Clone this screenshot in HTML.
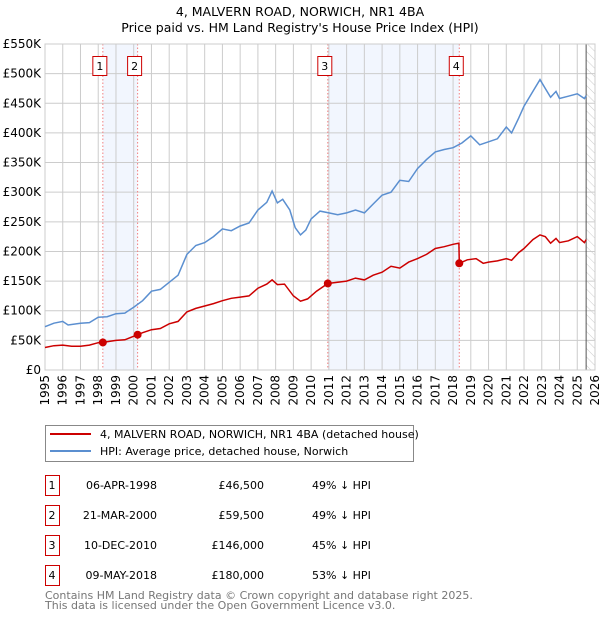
<!DOCTYPE html>
<html><head><meta charset="utf-8"><style>
body{margin:0;background:#fff;font-family:"Liberation Sans","DejaVu Sans",sans-serif;}
svg text{font-family:"DejaVu Sans","Liberation Sans",sans-serif;}
</style></head><body>
<svg id="chart" width="600" height="620" xmlns="http://www.w3.org/2000/svg">
<defs><pattern id="hatch" width="6" height="6" patternUnits="userSpaceOnUse" patternTransform="rotate(-45)"><line x1="0" y1="0" x2="0" y2="6" stroke="#ccc" stroke-width="1"/></pattern></defs>
<text x="300" y="16" text-anchor="middle" font-size="12.5">4, MALVERN ROAD, NORWICH, NR1 4BA</text>
<text x="300" y="32" text-anchor="middle" font-size="12.5">Price paid vs. HM Land Registry's House Price Index (HPI)</text>
<g id="plot"></g>
<g>
<rect x="45.5" y="425.5" width="368" height="36" fill="#fff" stroke="#888"/>
<line x1="50" y1="434" x2="91" y2="434" stroke="#cc0000" stroke-width="2"/>
<text x="100" y="438" font-size="11">4, MALVERN ROAD, NORWICH, NR1 4BA (detached house)</text>
<line x1="50" y1="451" x2="91" y2="451" stroke="#5b8fd0" stroke-width="2"/>
<text x="100" y="455" font-size="11">HPI: Average price, detached house, Norwich</text>
</g>
<g id="table" font-size="11"></g>
<text x="45" y="599" font-size="11" fill="#777">Contains HM Land Registry data © Crown copyright and database right 2025.</text>
<text x="45" y="609" font-size="11" fill="#777">This data is licensed under the Open Government Licence v3.0.</text>
</svg>
<script>
const hpiYears=[1995,1995.5,1996,1996.3,1997,1997.5,1998,1998.5,1999,1999.5,2000,2000.5,2001,2001.5,2002,2002.5,2003,2003.5,2004,2004.5,2005,2005.5,2006,2006.5,2007,2007.5,2007.8,2008.1,2008.4,2008.8,2009.1,2009.4,2009.7,2010,2010.5,2011,2011.5,2012,2012.5,2013,2013.5,2014,2014.5,2015,2015.5,2016,2016.5,2017,2017.5,2018,2018.5,2019,2019.5,2020,2020.5,2021,2021.3,2021.7,2022,2022.5,2022.9,2023.2,2023.5,2023.8,2024,2024.5,2025,2025.4,2025.5];
const hpiValues=[73,79,82,76,79,80,89,90,95,96,106,117,133,136,148,160,195,210,215,225,238,235,243,248,270,283,302,282,288,270,240,228,236,255,268,265,262,265,270,265,280,295,300,320,318,340,355,368,372,375,383,395,380,385,390,410,400,425,445,470,490,475,460,470,458,462,466,458,463];
const ppYears=[1995,1995.5,1996,1996.5,1997,1997.5,1998,1998.26,1999,1999.5,2000.22,2000.5,2001,2001.5,2002,2002.5,2003,2003.5,2004,2004.5,2005,2005.5,2006,2006.5,2007,2007.5,2007.8,2008.1,2008.5,2009,2009.4,2009.8,2010.3,2010.94,2011.5,2012,2012.5,2013,2013.5,2014,2014.5,2015,2015.5,2016,2016.5,2017,2017.5,2018,2018.33,2018.35,2018.8,2019.3,2019.7,2020,2020.5,2021,2021.3,2021.7,2022,2022.5,2022.9,2023.2,2023.5,2023.8,2024,2024.5,2025,2025.4,2025.5];
const ppValues=[38,41,42,40,40,42,46,46.5,50,51,59.5,63,68,70,78,82,98,104,108,112,117,121,123,125,138,145,152,144,145,125,116,120,133,146,148,150,155,152,160,165,175,172,182,188,195,205,208,212,214,180,186,188,180,182,184,188,185,198,205,220,228,225,214,222,215,218,225,215,220];
const saleLabels=["1","2","3","4"];
const saleYears=[1998.26,2000.22,2010.94,2018.35];
const saleValues=[46.5,59.5,146,180];
const saleDates=["06-APR-1998","21-MAR-2000","10-DEC-2010","09-MAY-2018"];
const salePrices=["£46,500","£59,500","£146,000","£180,000"];
const saleHpi=["49% ↓ HPI","49% ↓ HPI","45% ↓ HPI","53% ↓ HPI"];
const yTicks=[0,50,100,150,200,250,300,350,400,450,500,550];
const yTickLabels=["£0","£50K","£100K","£150K","£200K","£250K","£300K","£350K","£400K","£450K","£500K","£550K"];
const xTicks=[1995,1996,1997,1998,1999,2000,2001,2002,2003,2004,2005,2006,2007,2008,2009,2010,2011,2012,2013,2014,2015,2016,2017,2018,2019,2020,2021,2022,2023,2024,2025,2026];

const X0=45,X1=595,Y0=370,Y1=44;
const xs=y=>X0+(y-1995)/31*(X1-X0);
const ys=v=>Y0-v/550*(Y0-Y1);
const NS="http://www.w3.org/2000/svg";
const plot=document.getElementById('plot');
function mk(tag,attrs,parent){const e=document.createElementNS(NS,tag);for(const k in attrs)e.setAttribute(k,attrs[k]);(parent||plot).appendChild(e);return e;}

for(let i=0;i<saleYears.length;i+=2){
 const r=mk('rect',{x:xs(saleYears[i]),y:Y1,width:xs(saleYears[i+1])-xs(saleYears[i]),height:Y0-Y1,fill:'#f2f6fe'});
 
 
}
const h=mk('rect',{x:xs(2025.5),y:Y1,width:X1-xs(2025.5),height:Y0-Y1,fill:'url(#hatch)'});


yTicks.forEach((t,i)=>{
 const l=mk('line',{x1:X0,x2:X1,y1:ys(t),y2:ys(t),stroke:'#ccc'});
 
 
 const tx=mk('text',{x:X0-4,y:ys(t)+4,'text-anchor':'end','font-size':12});
 tx.textContent=yTickLabels[i];
 
 
});
xTicks.forEach(t=>{
 const l=mk('line',{x1:xs(t),x2:xs(t),y1:Y1,y2:Y0,stroke:'#ccc'});
 
 
 const tx=mk('text',{x:0,y:0,'text-anchor':'end','font-size':12,transform:`translate(${xs(t)+4},${Y0+5}) rotate(-90)`});
 tx.textContent=t;
 
 
});
const vl=mk('line',{x1:xs(2025.5),x2:xs(2025.5),y1:Y1,y2:Y0,stroke:'#555'});


saleYears.forEach((y,i)=>{
 const l=mk('line',{x1:xs(y),x2:xs(y),y1:Y1,y2:Y0,stroke:'#f08080','stroke-dasharray':'1.5,2'});
 
 
 const bx=xs(y)-3;
 const b=mk('rect',{x:bx-7,y:56.5,width:14,height:19,fill:'#fff',stroke:'#cc0000'});
 
 
 const t=mk('text',{x:bx,y:70,'text-anchor':'middle','font-size':11});
 t.textContent=saleLabels[i];
 
 
});
mk('rect',{x:X0,y:Y1,width:X1-X0,height:Y0-Y1,fill:'none',stroke:'#ccc'});
const hp=mk('path',{d:hpiYears.map((y,i)=>(i?'L':'M')+xs(y).toFixed(1)+','+ys(hpiValues[i]).toFixed(1)).join(''),fill:'none',stroke:'#5b8fd0','stroke-width':1.5});


const pp=mk('path',{d:ppYears.map((y,i)=>(i?'L':'M')+xs(y).toFixed(1)+','+ys(ppValues[i]).toFixed(1)).join(''),fill:'none',stroke:'#cc0000','stroke-width':1.5});


saleYears.forEach((y,i)=>{
 const c=mk('circle',{cx:xs(y),cy:ys(saleValues[i]),r:4,fill:'#cc0000'});
 
 
});
const tbl=document.getElementById('table');
saleYears.forEach((y,i)=>{
 const yy=483+i*30;
 const r=mk('rect',{x:45.5,y:yy-7.5,width:14,height:20,fill:'#fff',stroke:'#cc0000'},tbl);
 
 
 const cells=[[52,'middle',saleLabels[i]],[157,'end',saleDates[i]],[264,'end',salePrices[i]],[312,'start',saleHpi[i]]];
 cells.forEach((c,j)=>{
  const t=mk('text',{x:c[0],y:yy+6,'text-anchor':c[1]},tbl);
  t.textContent=c[2];
  
  
 });
});
</script>
</body></html>
